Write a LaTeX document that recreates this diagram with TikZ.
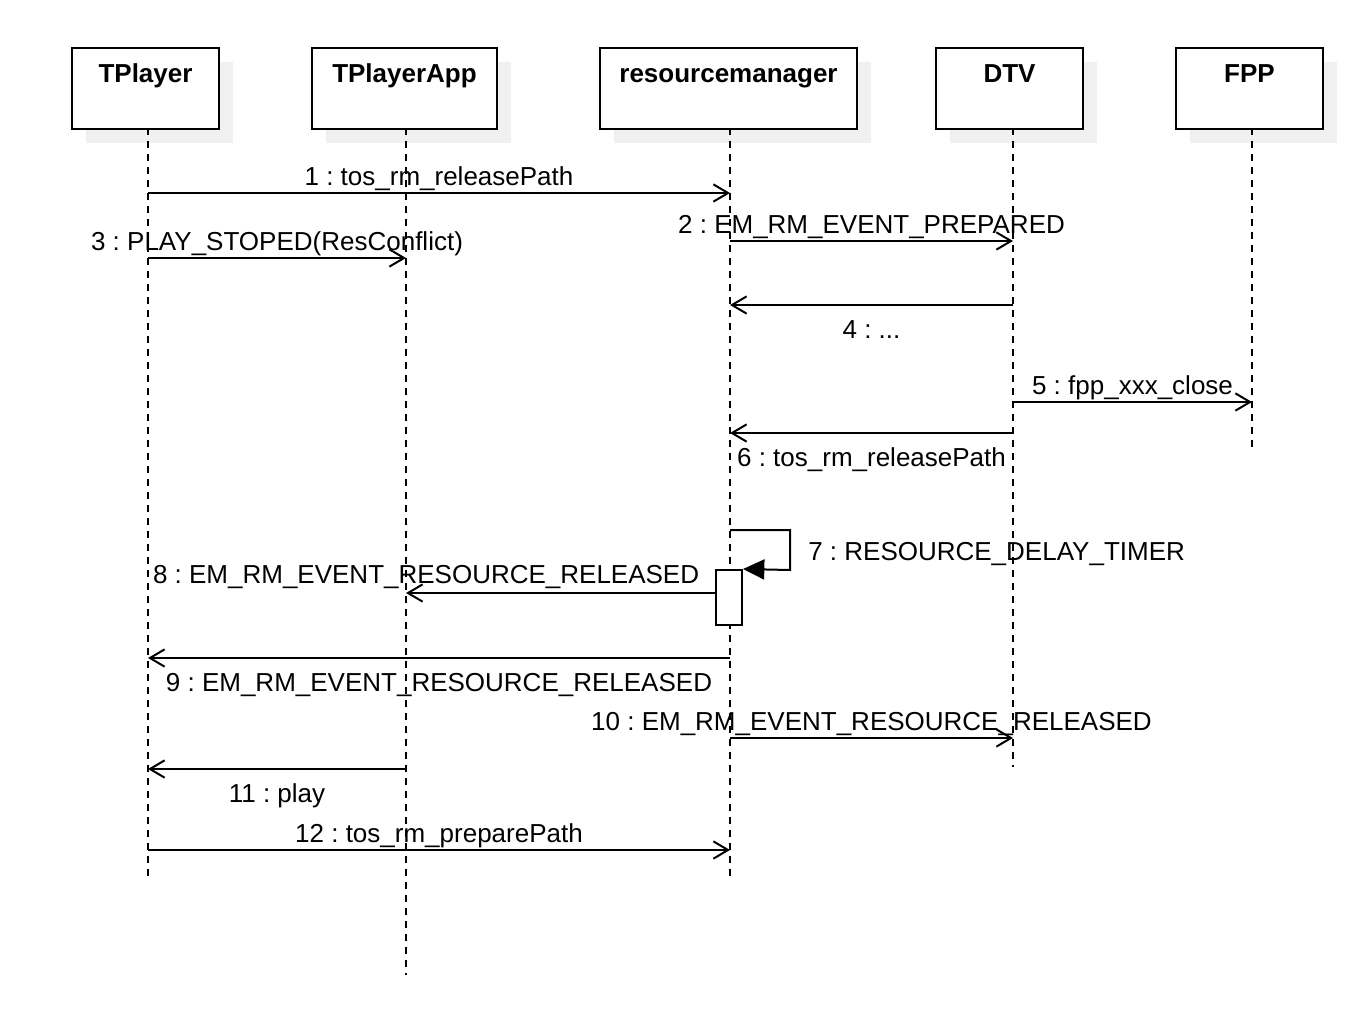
\documentclass[tikz,border=0pt]{standalone}
\usepackage{fontspec}
\setmainfont{Liberation Sans}
\usetikzlibrary{arrows.meta,calc}
\definecolor{shadowgray}{HTML}{F0F0F0}
\frenchspacing
\begin{document}
\begin{tikzpicture}[x=0.75pt,y=-0.75pt,
  every node/.style={font=\fontsize{19.5}{23}\selectfont, inner sep=0pt},
  headbox/.style={draw, line width=1.5pt, fill=white, minimum height=59.25pt},
  headtxt/.style={anchor=base, font=\fontsize{19.5}{23}\selectfont\bfseries},
  life/.style={line width=1.4pt, dash pattern=on 5.25pt off 4.5pt},
  msg/.style={line width=1.5pt, -{Straight Barb[length=11pt,width=13pt,line width=1.5pt]}},
  selfmsg/.style={line width=1.5pt, -{Triangle[length=16pt,width=15pt]}},
  up/.style={anchor=base, yshift=5.5pt},
  down/.style={anchor=base, yshift=-24.75pt}
]
\useasboundingbox (0,0) rectangle (1348,1028);

% participant boxes (placed first so their anchors exist for the shadows)
\node[headbox, minimum width=108.75pt] (tp)  at (145.5,88.5) {};
\node[headbox, minimum width=137.25pt] (app) at (404.5,88.5) {};
\node[headbox, minimum width=191.25pt] (rm)  at (728.5,88.5) {};
\node[headbox, minimum width=108.75pt] (dtv) at (1009.5,88.5) {};
\node[headbox, minimum width=108.75pt] (fpp) at (1249.5,88.5) {};

% flat shadows, then the boxes redrawn on top of them
\foreach \b in {tp,app,rm,dtv,fpp}{
  \fill[shadowgray] ($(\b.south west)+(14,14)$) rectangle ($(\b.north east)+(14,14)$);
}
\foreach \b in {tp,app,rm,dtv,fpp}{
  \draw[line width=1.5pt, fill=white] (\b.south west) rectangle (\b.north east);
}

\node[headtxt] (tpT)  at ($(tp.north)+(0,34)$)  {TPlayer};
\node[headtxt] (appT) at ($(app.north)+(0,34)$) {TPlayerApp};
\node[headtxt] (rmT)  at ($(rm.north)+(0,34)$)  {resourcemanager};
\node[headtxt] (dtvT) at ($(dtv.north)+(0,34)$) {DTV};
\node[headtxt] (fppT) at ($(fpp.north)+(0,34)$) {FPP};

% lifelines
\coordinate (tpL)  at (148,128);  \coordinate (tpE)  at (148,880);
\coordinate (appL) at (406,128);  \coordinate (appE) at (406,975);
\coordinate (rmL)  at (730,128);  \coordinate (rmE)  at (730,880);
\coordinate (dtvL) at (1013,128); \coordinate (dtvE) at (1013,767);
\coordinate (fppL) at (1252,128); \coordinate (fppE) at (1252,447);
\foreach \l in {tp,app,rm,dtv,fpp}{
  \draw[life] (\l L) -- (\l E);
}

% message rows
\coordinate (m1) at (0,193);
\coordinate (m2) at (0,241);
\coordinate (m3) at (0,258);
\coordinate (m4) at (0,305);
\coordinate (m5) at (0,402);
\coordinate (m6) at (0,433);
\coordinate (m7) at (0,530);
\coordinate (m8) at (0,593);
\coordinate (m9) at (0,658);
\coordinate (m10) at (0,738);
\coordinate (m11) at (0,769);
\coordinate (m12) at (0,850);

\draw[msg] (tpL |- m1) -- (rmL |- m1) node[midway, up] (l1) {1 : tos\_rm\_releasePath};
\draw[msg] (rmL |- m2) -- (dtvL |- m2) node[midway, up] (l2) {2 : EM\_RM\_EVENT\_PREPARED};
\draw[msg] (tpL |- m3) -- (appL |- m3) node[midway, up] (l3) {3 : PLAY\_STOPED(ResConflict)};
\draw[msg] (dtvL |- m4) -- (rmL |- m4) node[midway, down] (l4) {4 : ...};
\draw[msg] (dtvL |- m5) -- (fppL |- m5) node[midway, up] (l5) {5 : fpp\_xxx\_close};
\draw[msg] (dtvL |- m6) -- (rmL |- m6) node[midway, down] (l6) {6 : tos\_rm\_releasePath};

% self call with activation
\node[draw, line width=1.5pt, fill=white, minimum width=19.5pt, minimum height=41.25pt] (act) at (729,597.5) {};
\coordinate (s7a) at (790,530);
\coordinate (s7b) at (790,570);
\draw[selfmsg] (rmL |- m7) -- (s7a) -- (s7b) -- (act.north east);
\node[anchor=base west] (l7) at (808,560) {7 : RESOURCE\_DELAY\_TIMER};

\draw[msg] (act.west |- m8) -- (appL |- m8) node[pos=0.935, up, yshift=1.5pt] (l8) {8 : EM\_RM\_EVENT\_RESOURCE\_RELEASED};
\draw[msg] (rmL |- m9) -- (tpL |- m9) node[midway, down] (l9) {9 : EM\_RM\_EVENT\_RESOURCE\_RELEASED};
\draw[msg] (rmL |- m10) -- (dtvL |- m10) node[midway, up] (l10) {10 : EM\_RM\_EVENT\_RESOURCE\_RELEASED};
\draw[msg] (appL |- m11) -- (tpL |- m11) node[midway, down] (l11) {11 : play};
\draw[msg] (tpL |- m12) -- (rmL |- m12) node[midway, up] (l12) {12 : tos\_rm\_preparePath};
\end{tikzpicture}
\end{document}
